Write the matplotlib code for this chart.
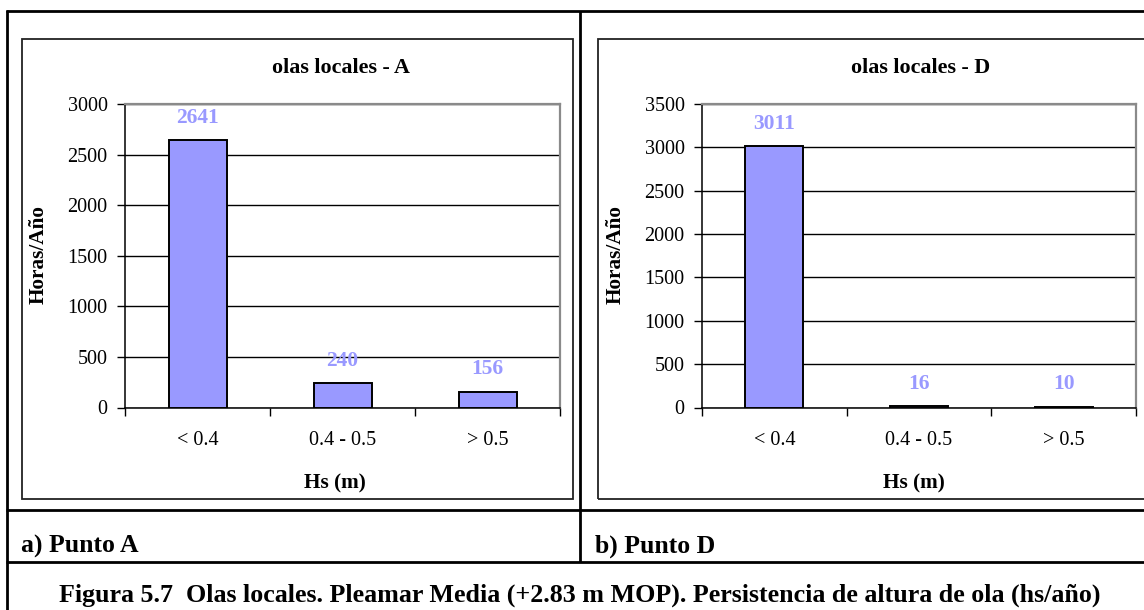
import matplotlib
matplotlib.use("Agg")
import matplotlib.pyplot as plt
from matplotlib.patches import Rectangle
from matplotlib.lines import Line2D

# Data
categories = ["< 0.4", "0.4 - 0.5", "> 0.5"]
hours_a = [2641, 240, 156]
hours_d = [3011, 16, 10]
yticks_a = [0, 500, 1000, 1500, 2000, 2500, 3000]
yticks_d = [0, 500, 1000, 1500, 2000, 2500, 3000, 3500]
title_a = "olas locales - A"
title_d = "olas locales - D"
ylabel = "Horas/Año"
xlabel = "Hs (m)"
panel_a = "a) Punto A"
panel_d = "b) Punto D"
caption = "Figura 5.7  Olas locales. Pleamar Media (+2.83 m MOP). Persistencia de altura de ola (hs/año)"

W, H = 1144, 610
BAR = "#9999FF"
SERIF = ["Liberation Serif", "DejaVu Serif"]

plt.rcParams["font.family"] = SERIF

fig = plt.figure(figsize=(W / 100, H / 100), dpi=100)


def fx(x):
    return x / W


def fy(y):
    return 1 - y / H


def hline(x0, x1, y, lw=2.0, color="black"):
    fig.add_artist(Line2D([fx(x0), fx(x1)], [fy(y), fy(y)], lw=lw, color=color,
                          transform=fig.transFigure, solid_capstyle="butt"))


def vline(x, y0, y1, lw=2.0, color="black"):
    fig.add_artist(Line2D([fx(x), fx(x)], [fy(y0), fy(y1)], lw=lw, color=color,
                          transform=fig.transFigure, solid_capstyle="butt"))


# Table frame
hline(6, W, 11)
vline(7, 10, H)
vline(580, 11, 562)
hline(6, W, 510)
hline(6, W, 562)

# Chart frames
for (x0, x1) in [(22, 573), (598, W + 5)]:
    fig.add_artist(Rectangle((fx(x0), fy(499)), fx(x1) - fx(x0), fy(39.5) - fy(499),
                             transform=fig.transFigure, fill=False, lw=1.3,
                             edgecolor="#222222"))


def make_chart(left, right, values, yticks, title, title_x, ylab_x, xlab_x):
    ax = fig.add_axes([fx(left), fy(407.5), fx(right) - fx(left), fy(104) - fy(407.5)])
    x = list(range(len(values)))
    ax.bar(x, values, width=0.4, color=BAR, edgecolor="black", linewidth=1.4, zorder=3)
    ax.set_xlim(-0.5, len(values) - 0.5)
    ax.set_ylim(yticks[0], yticks[-1])
    ax.set_yticks(yticks)
    ax.set_yticklabels([str(v) for v in yticks], fontsize=14.5)
    ax.yaxis.grid(True, color="black", lw=1.0, zorder=1)
    ax.set_axisbelow(True)
    # category boundaries carry tick marks; labels sit at the centres
    ax.set_xticks([i - 0.5 for i in range(len(values) + 1)])
    ax.set_xticklabels([])
    ax.set_xticks(x, minor=True)
    ax.set_xticklabels(categories, minor=True, fontsize=14.5)
    ax.tick_params(axis="x", which="minor", length=0, pad=17)
    ax.tick_params(axis="x", which="major", length=6, width=1.0, direction="out")
    ax.tick_params(axis="y", length=6, width=1.0, direction="out", pad=6.5)
    for s in ["left", "bottom"]:
        ax.spines[s].set_color("black")
        ax.spines[s].set_linewidth(1.1)
    for s in ["top", "right"]:
        ax.spines[s].set_color("#8a8a8a")
        ax.spines[s].set_linewidth(1.6)
    for xi, v in zip(x, values):
        ax.annotate(str(v), (xi, v), xytext=(0, 16), textcoords="offset points",
                    ha="center", va="center", color=BAR, fontsize=15.5,
                    fontweight="bold")
    fig.text(fx(title_x), fy(68), title, ha="center", va="center",
             fontsize=15.8, fontweight="bold")
    fig.text(fx(ylab_x), fy(255), ylabel, ha="center", va="center", rotation=90,
             fontsize=15.3, fontweight="bold")
    fig.text(fx(xlab_x), fy(483), xlabel, ha="center", va="center",
             fontsize=15.3, fontweight="bold")
    return ax


make_chart(125, 560, hours_a, yticks_a, title_a, 341, 39, 335)
make_chart(702, 1136, hours_d, yticks_d, title_d, 921, 616, 914)

fig.text(fx(21), fy(553), panel_a, ha="left", va="baseline", fontsize=18.5,
         fontweight="bold")
fig.text(fx(595), fy(553), panel_d, ha="left", va="baseline", fontsize=18.5,
         fontweight="bold")
fig.text(fx(580), fy(602), caption, ha="center", va="baseline", fontsize=18.7,
         fontweight="bold")

fig.savefig("out.png", dpi=100, facecolor="white")
